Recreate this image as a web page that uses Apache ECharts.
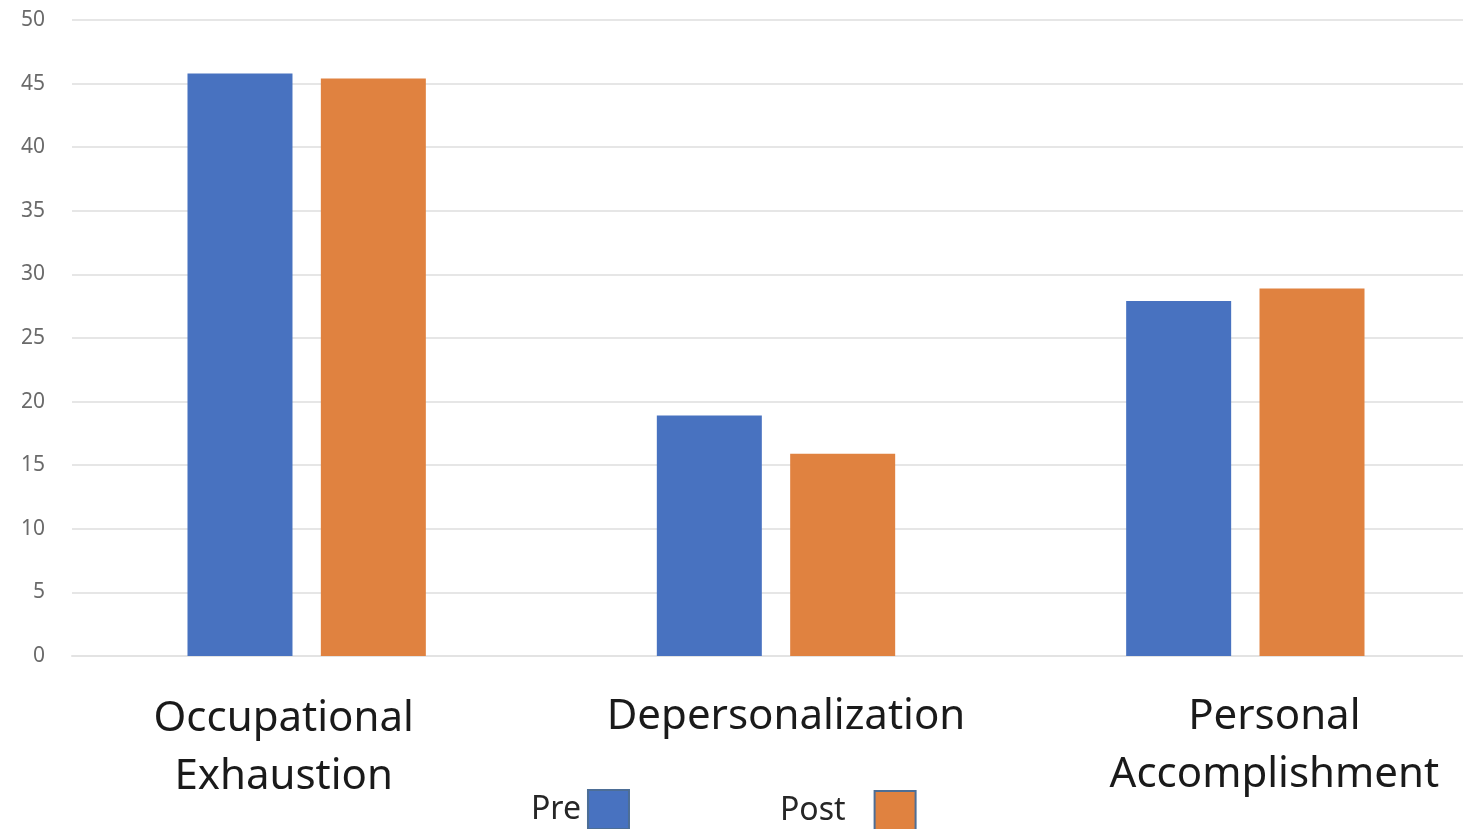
<!DOCTYPE html>
<html><head><meta charset="utf-8">
<script src="https://cdn.jsdelivr.net/npm/echarts@6/dist/echarts.min.js"></script>
<style>html,body{margin:0;padding:0;background:#fff;overflow:hidden}#c{width:1480px;height:829px}</style>
</head><body><div id="c"></div>
<script>
const categories = ['Occupational\nExhaustion', 'Depersonalization', 'Personal\nAccomplishment'];
const preValues = [45.8, 18.9, 27.9];
const postValues = [45.4, 15.9, 28.9];
const seriesNames = ['Pre', 'Post'];
const yTicks = {min: 0, max: 50, interval: 5};

const chart = echarts.init(document.getElementById('c'));
const labelFont = '"Noto Sans", sans-serif';
chart.setOption({
  animation: false,
  grid: {left: 72, right: 0, top: 20, bottom: 173, containLabel: false},
  legend: [
    {data: [seriesNames[0]], left: 526, top: 784, align: 'right', icon: 'rect', itemWidth: 41, itemHeight: 39,
     itemGap: 0, itemStyle: {borderColor: '#4d6e96', borderWidth: 2},
     textStyle: {fontSize: 32, color: '#262626', fontFamily: labelFont, padding: [0, 2, 0, 0]}},
    {data: [seriesNames[1]], left: 775, top: 785, align: 'right', icon: 'rect', itemWidth: 41, itemHeight: 39,
     itemGap: 0, itemStyle: {borderColor: '#4d6e96', borderWidth: 2},
     textStyle: {fontSize: 32, color: '#262626', fontFamily: labelFont, padding: [0, 24, 0, 0]}}
  ],
  xAxis: {
    type: 'category', data: categories,
    axisLine: {show: true, lineStyle: {color: '#e3e3e3', width: 2}},
    axisTick: {show: false},
    axisLabel: {
      interval: 0, margin: 32, color: '#1a1a1a', fontSize: 42, fontFamily: labelFont, lineHeight: 58,
      formatter: (v, i) => v.split('\n').map(s => '{c' + i + '|' + s + '}').join('\n'),
      rich: {
        c0: {fontSize: 42, lineHeight: 58, fontFamily: labelFont, color: '#1a1a1a', padding: [4, 46, 0, 0]},
        c1: {fontSize: 42, lineHeight: 58, fontFamily: labelFont, color: '#1a1a1a', padding: [0, 0, 0, 20]},
        c2: {fontSize: 42, lineHeight: 58, fontFamily: labelFont, color: '#1a1a1a', padding: [0, 0, 0, 58]}
      }
    }
  },
  yAxis: {
    type: 'value', min: yTicks.min, max: yTicks.max, interval: yTicks.interval,
    axisLine: {show: false}, axisTick: {show: false},
    axisLabel: {margin: 27, color: '#6a6a6a', fontSize: 21, fontFamily: labelFont},
    splitLine: {lineStyle: {color: '#e6e6e6', width: 2}}
  },
  series: [
    {name: seriesNames[0], type: 'bar', data: preValues, barWidth: 105, barGap: '27%',
     itemStyle: {color: '#4872C0'}},
    {name: seriesNames[1], type: 'bar', data: postValues, barWidth: 105,
     itemStyle: {color: '#E08240'}}
  ]
});
</script></body></html>
